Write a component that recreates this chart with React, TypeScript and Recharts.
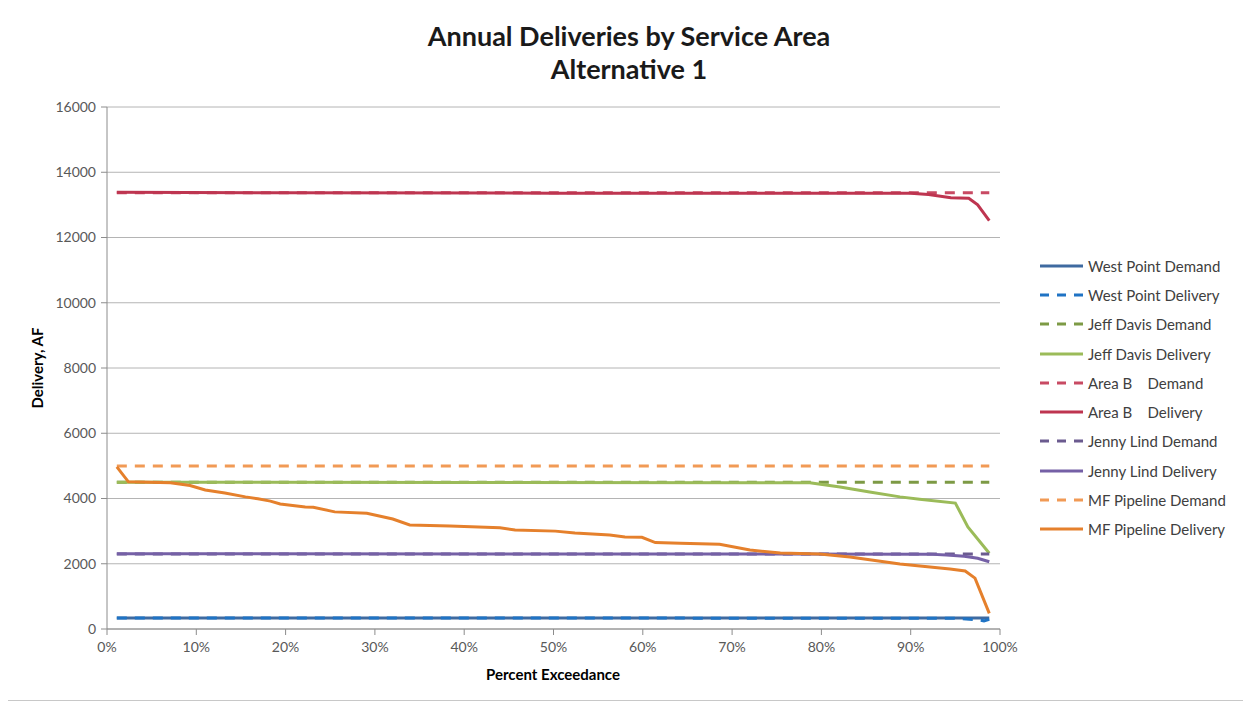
import { CartesianGrid, Line, LineChart, XAxis, YAxis } from "recharts";

type Pt = [number, number];

// percent exceedance ticks and delivery ticks (AF)
const pctTicks = [0, 10, 20, 30, 40, 50, 60, 70, 80, 90, 100];
const afTicks = [0, 2000, 4000, 6000, 8000, 10000, 12000, 14000, 16000];

// [percent exceedance, delivery AF]
const westPointDemand: Pt[] = [[1.1, 340], [98.8, 340]];
const westPointDelivery: Pt[] = [[1.1, 340], [50, 335], [95, 330], [97.5, 280], [98.2, 250], [98.8, 300]];
const jeffDavisDemand: Pt[] = [[1.1, 4500], [98.8, 4500]];
const jeffDavisDelivery: Pt[] = [
  [1.1, 4500], [40, 4490], [78.7, 4480], [82.1, 4350], [85.4, 4200], [88.8, 4050],
  [91.0, 3980], [95.0, 3860], [96.4, 3130], [98.8, 2320],
];
const areaBDemand: Pt[] = [[1.1, 13370], [98.8, 13370]];
const areaBDelivery: Pt[] = [
  [1.1, 13390], [20, 13370], [50, 13360], [90, 13360], [92, 13320], [94.5, 13220],
  [96.5, 13200], [97.5, 13000], [98.8, 12520],
];
const jennyLindDemand: Pt[] = [[1.1, 2300], [98.8, 2300]];
const jennyLindDelivery: Pt[] = [
  [1.1, 2310], [50, 2300], [92, 2295], [94, 2270], [96, 2230], [97.5, 2170], [98.8, 2060],
];
const mfPipelineDemand: Pt[] = [[1.1, 5000], [98.8, 5000]];
const mfPipelineDelivery: Pt[] = [
  [1.1, 4970], [2.4, 4510], [7.1, 4480], [9.3, 4400], [11.0, 4260], [13.2, 4170],
  [15.5, 4050], [16.9, 3990], [18.3, 3920], [19.4, 3830], [22.2, 3740], [23.1, 3730],
  [25.5, 3590], [29.1, 3550], [32.0, 3370], [33.9, 3190], [38.4, 3160], [44.0, 3100],
  [45.7, 3035], [50.2, 3000], [52.4, 2940], [56.3, 2880], [58.0, 2820], [59.9, 2810],
  [61.4, 2650], [64.2, 2630], [68.6, 2600], [72.0, 2420], [75.4, 2330], [79.8, 2300],
  [83.2, 2210], [85.4, 2120], [88.8, 1990], [94.4, 1840], [96.1, 1780], [97.2, 1560],
  [98.8, 480],
];

const toRows = (pts: Pt[]) => pts.map(([pct, af]) => ({ pct, af }));

const series = [
  { name: "West Point Demand", pts: westPointDemand, color: "#3f6aa0", dash: false },
  { name: "West Point Delivery", pts: westPointDelivery, color: "#1f73c4", dash: true },
  { name: "Jeff Davis Demand", pts: jeffDavisDemand, color: "#7d9a45", dash: true },
  { name: "Jeff Davis Delivery", pts: jeffDavisDelivery, color: "#9bbb59", dash: false },
  { name: "Area B    Demand", pts: areaBDemand, color: "#c84a63", dash: true },
  { name: "Area B    Delivery", pts: areaBDelivery, color: "#be3550", dash: false },
  { name: "Jenny Lind Demand", pts: jennyLindDemand, color: "#6b5b8f", dash: true },
  { name: "Jenny Lind Delivery", pts: jennyLindDelivery, color: "#7560a6", dash: false },
  { name: "MF Pipeline Demand", pts: mfPipelineDemand, color: "#f19a55", dash: true },
  { name: "MF Pipeline Delivery", pts: mfPipelineDelivery, color: "#e5802c", dash: false },
];

const FONT = "Lato, 'Open Sans', sans-serif";
const tickStyle = { fontSize: 14, fill: "#595959", fontFamily: FONT };

function SideLegend() {
  return (
    <div style={{ position: "absolute", left: 1030, top: 243, fontFamily: FONT }}>
      {series.map((s) => (
        <div key={s.name} style={{ display: "flex", alignItems: "center", height: 29.3 }}>
          <svg width={48} height={10}>
            <line
              x1={2}
              x2={45}
              y1={5}
              y2={5}
              stroke={s.color}
              strokeWidth={3}
              strokeDasharray={s.dash ? "9 8" : undefined}
            />
          </svg>
          <span style={{ fontSize: 15, color: "#404040", whiteSpace: "pre", marginLeft: 2 }}>{s.name}</span>
        </div>
      ))}
    </div>
  );
}

export default function App() {
  return (
    <div
      style={{
        position: "relative",
        width: 1235,
        height: 692,
        marginLeft: -1,
        borderLeft: "1px solid #c8c8c8",
        borderBottom: "1px solid #c8c8c8",
        fontFamily: FONT,
      }}
    >
      <div
        style={{
          position: "absolute",
          left: 0,
          width: 1242,
          top: 11,
          textAlign: "center",
          fontWeight: 700,
          fontSize: 27,
          lineHeight: "33px",
          color: "#1a1a1a",
        }}
      >
        Annual Deliveries by Service Area
        <br />
        Alternative 1
      </div>
      <div
        style={{
          position: "absolute",
          left: 29,
          top: 360,
          transform: "translate(-50%, -50%) rotate(-90deg)",
          fontWeight: 700,
          fontSize: 15,
          color: "#000",
          whiteSpace: "nowrap",
        }}
      >
        Delivery, AF
      </div>
      <div
        style={{
          position: "absolute",
          left: 545,
          top: 666,
          transform: "translate(-50%, -50%)",
          fontWeight: 700,
          fontSize: 15,
          color: "#000",
          whiteSpace: "nowrap",
        }}
      >
        Percent Exceedance
      </div>
      <LineChart width={1235} height={687} margin={{ top: 99, right: 243, left: 39, bottom: 36 }}>
        <CartesianGrid horizontal vertical={false} stroke="#b4b4b4" />
        <XAxis
          type="number"
          dataKey="pct"
          domain={[0, 100]}
          ticks={pctTicks}
          tickFormatter={(v) => `${v}%`}
          tick={tickStyle}
          tickSize={6}
          tickMargin={7}
          height={30}
          stroke="#8c8c8c"
          allowDuplicatedCategory={false}
        />
        <YAxis
          type="number"
          dataKey="af"
          domain={[0, 16000]}
          ticks={afTicks}
          tick={tickStyle}
          tickSize={6}
          tickMargin={5}
          width={60}
          stroke="#8c8c8c"
        />
        {series.map((s) => (
          <Line
            key={s.name}
            data={toRows(s.pts)}
            dataKey="af"
            name={s.name}
            type="linear"
            stroke={s.color}
            strokeWidth={3}
            strokeDasharray={s.dash ? "10 8" : undefined}
            dot={false}
            activeDot={false}
            isAnimationActive={false}
          />
        ))}
      </LineChart>
      <SideLegend />
    </div>
  );
}
